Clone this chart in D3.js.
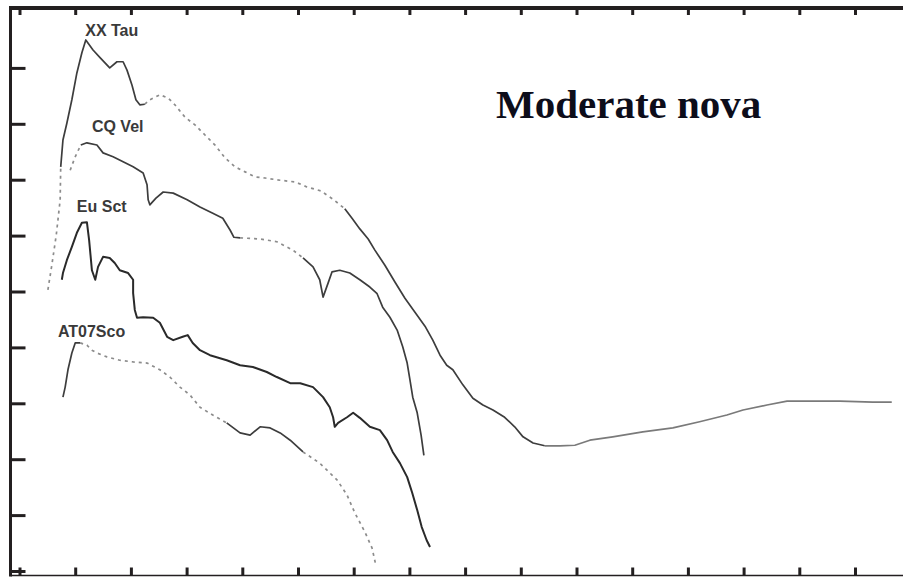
<!DOCTYPE html>
<html>
<head>
<meta charset="utf-8">
<script src="https://cdn.jsdelivr.net/npm/d3@7"></script>
<style>
  html, body { margin: 0; padding: 0; background: #fff; }
  svg { display: block; }
  .tick text { display: none; }
</style>
</head>
<body>
<div id="chart"></div>
<script>
// ── DATA (x: time in axis units, y: magnitude below top of frame) ──
const xxTauX = [0.51,0.58,0.66,0.73,0.74,0.78,0.85,0.94,1.03,1.12,1.19,1.32,1.45,1.62,1.75,1.86,1.93,2.02,2.09,2.16,2.25,2.34,2.52,2.67,2.79,2.97,3.15,3.33,3.51,3.69,3.87,4.05,4.23,4.41,4.68,4.95,5.16,5.41,5.63,5.84,5.97,6.11,6.26,6.38,6.56,6.74,6.92,7.10,7.28,7.42,7.55,7.67,7.78,7.96,8.14,8.32,8.50,8.71,8.89,9.04,9.22,9.43,9.70,9.97,10.24,10.65,11.19,11.73,12.21,12.70,12.99,13.42,13.78,14.14,14.73,15.32,15.66];
const xxTauY = [4.97,4.53,3.99,3.36,2.77,2.29,1.99,1.57,1.09,0.73,0.50,0.68,0.82,1.00,0.89,0.89,1.04,1.31,1.57,1.66,1.65,1.57,1.48,1.54,1.66,1.88,2.02,2.20,2.38,2.61,2.77,2.86,2.95,2.97,3.01,3.04,3.13,3.20,3.35,3.52,3.69,3.88,4.06,4.26,4.53,4.83,5.12,5.37,5.62,5.87,6.14,6.32,6.40,6.67,6.91,7.03,7.12,7.25,7.42,7.60,7.71,7.76,7.76,7.75,7.66,7.60,7.51,7.44,7.33,7.21,7.12,7.03,6.96,6.96,6.96,6.98,6.98];

const cqVelX = [0.91,1.00,1.10,1.21,1.39,1.50,1.68,1.86,2.04,2.22,2.29,2.31,2.34,2.45,2.58,2.76,3.01,3.24,3.47,3.65,3.78,3.85,3.96,4.32,4.62,4.91,5.09,5.27,5.39,5.45,5.54,5.61,5.75,5.93,6.11,6.29,6.42,6.52,6.65,6.78,6.88,6.96,7.01,7.06,7.14,7.21,7.26];
const cqVelY = [2.83,2.59,2.38,2.34,2.38,2.52,2.59,2.68,2.77,2.88,3.09,3.36,3.45,3.33,3.22,3.24,3.36,3.49,3.60,3.69,3.90,4.03,4.04,4.06,4.11,4.26,4.40,4.56,4.79,5.10,4.85,4.65,4.62,4.67,4.79,4.92,5.04,5.28,5.46,5.69,5.99,6.28,6.58,6.89,7.17,7.57,7.93];

const euSctX = [0.76,0.78,0.85,0.94,1.03,1.12,1.21,1.25,1.30,1.36,1.41,1.50,1.62,1.71,1.80,1.95,2.04,2.04,2.07,2.11,2.22,2.40,2.52,2.65,2.76,2.93,3.02,3.11,3.24,3.42,3.72,3.96,4.19,4.44,4.62,4.86,5.04,5.27,5.45,5.57,5.63,5.66,5.72,5.88,5.99,6.11,6.29,6.47,6.60,6.70,6.83,6.96,7.05,7.14,7.22,7.31,7.37];
const euSctY = [4.79,4.67,4.44,4.20,3.95,3.77,3.76,4.08,4.62,4.79,4.56,4.38,4.40,4.49,4.62,4.67,4.79,5.03,5.33,5.47,5.46,5.47,5.56,5.81,5.87,5.81,5.78,5.92,6.05,6.14,6.23,6.32,6.35,6.44,6.53,6.64,6.64,6.71,6.89,7.07,7.25,7.42,7.35,7.25,7.17,7.26,7.42,7.48,7.66,7.87,8.07,8.32,8.60,8.91,9.21,9.45,9.57];

const at07ScoX = [0.78,0.82,0.87,0.94,1.00,1.09,1.21,1.30,1.39,1.57,1.80,2.04,2.29,2.52,2.70,2.88,3.06,3.24,3.47,3.72,3.96,4.14,4.32,4.50,4.68,4.86,5.09,5.39,5.70,5.88,6.02,6.20,6.33,6.40];
const at07ScoY = [6.89,6.71,6.40,6.10,5.92,5.92,5.96,6.05,6.10,6.17,6.23,6.26,6.28,6.40,6.53,6.71,6.85,7.07,7.21,7.35,7.53,7.57,7.42,7.44,7.53,7.66,7.87,8.07,8.37,8.64,8.96,9.30,9.59,9.91];

const seriesNames = ["XX Tau", "CQ Vel", "Eu Sct", "AT07Sco"];
const xTicks = d3.range(0, 16);
const yTicks = d3.range(1, 11);
const title = "Moderate nova";

// ── DIMENSIONS ────────────────────────────────────────────────
const W = 903, H = 577;
const frame = { left: 10.5, top: 8, bottom: 575.5 };

const svg = d3.select("#chart").append("svg")
  .attr("width", W).attr("height", H);

// ── SCALES ────────────────────────────────────────────────────
const x = d3.scaleLinear().domain([0, 15]).range([19.5, 855]);
const y = d3.scaleLinear().domain([0, 10]).range([12, 571]);

// ── AXES / FRAME ──────────────────────────────────────────────
const ink = "#231f20";

svg.append("g")
  .attr("transform", `translate(${frame.left},0)`)
  .call(d3.axisRight(y).tickValues(yTicks).tickSize(15).tickFormat(""))
  .call(g => g.select(".domain").remove())
  .call(g => g.selectAll("line").attr("stroke", ink).attr("stroke-width", 3));

svg.append("g")
  .attr("transform", `translate(0,${frame.top})`)
  .call(d3.axisBottom(x).tickValues(xTicks).tickSize(7).tickFormat(""))
  .call(g => g.select(".domain").remove())
  .call(g => g.selectAll("line").attr("stroke", ink).attr("stroke-width", 3));

svg.append("g")
  .attr("transform", `translate(0,${frame.bottom})`)
  .call(d3.axisTop(x).tickValues(xTicks).tickSize(8).tickFormat(""))
  .call(g => g.select(".domain").remove())
  .call(g => g.selectAll("line").attr("stroke", ink).attr("stroke-width", 3));

// top border, left border, bottom border
svg.append("line").attr("x1", frame.left - 1.5).attr("x2", W)
  .attr("y1", frame.top).attr("y2", frame.top)
  .attr("stroke", ink).attr("stroke-width", 4);
svg.append("line").attr("x1", frame.left).attr("x2", frame.left)
  .attr("y1", frame.top).attr("y2", frame.bottom + 1)
  .attr("stroke", ink).attr("stroke-width", 3);
svg.append("line").attr("x1", frame.left).attr("x2", W)
  .attr("y1", frame.bottom).attr("y2", frame.bottom)
  .attr("stroke", ink).attr("stroke-width", 1.5);

// ── CURVES ────────────────────────────────────────────────────
const line = d3.line().x(d => x(d[0])).y(d => y(d[1]));

const styles = {
  solid:  { stroke: "#3d3d3d", dash: null, width: 1.7 },
  dark:   { stroke: "#2a2a2a", dash: null, width: 2 },
  dotted: { stroke: "#8c8c8c", dash: "3,4", width: 1.7 },
  light:  { stroke: "#7a7a7a", dash: null, width: 1.7 }
};

// style breaks, given at data x values where the line changes look
const curves = [
  { xs: xxTauX, ys: xxTauY, parts: [[0, 0.74, "dotted"], [0.74, 2.25, "solid"], [2.25, 5.84, "dotted"], [5.84, 9.43, "solid"], [9.43, 16, "light"]] },
  { xs: cqVelX, ys: cqVelY, parts: [[0, 1.10, "dotted"], [1.10, 3.96, "solid"], [3.96, 5.09, "dotted"], [5.09, 8, "solid"]] },
  { xs: euSctX, ys: euSctY, parts: [[0, 8, "dark"]] },
  { xs: at07ScoX, ys: at07ScoY, parts: [[0, 1.09, "solid"], [1.09, 3.72, "dotted"], [3.72, 5.09, "solid"], [5.09, 7, "dotted"]] }
];

curves.forEach(c => {
  const pts = c.xs.map((v, i) => [v, c.ys[i]]);
  c.parts.forEach(([a, b, s]) => {
    const seg = pts.filter(p => p[0] >= a && p[0] <= b);
    const st = styles[s];
    svg.append("path")
      .datum(seg)
      .attr("d", line)
      .attr("fill", "none")
      .attr("stroke", st.stroke)
      .attr("stroke-width", st.width)
      .attr("stroke-dasharray", st.dash)
      .attr("stroke-linejoin", "round");
  });
});

// ── LABELS ────────────────────────────────────────────────────
const labelAt = [[1.18, 0.43], [1.30, 2.15], [1.03, 3.58], [0.69, 5.81]];
svg.selectAll(".curve-label")
  .data(seriesNames)
  .join("text")
    .attr("class", "curve-label")
    .attr("x", (d, i) => x(labelAt[i][0]))
    .attr("y", (d, i) => y(labelAt[i][1]))
    .attr("font-family", "Liberation Sans, Arial, sans-serif")
    .attr("font-weight", "bold")
    .attr("font-size", 16)
    .attr("fill", "#3a3a3a")
    .text(d => d);

svg.append("text")
  .attr("x", 496).attr("y", 118)
  .attr("font-family", "Liberation Serif, Times New Roman, serif")
  .attr("font-weight", "bold")
  .attr("font-size", 41)
  .attr("fill", "#0d0d1a")
  .text(title);
</script>
</body>
</html>
